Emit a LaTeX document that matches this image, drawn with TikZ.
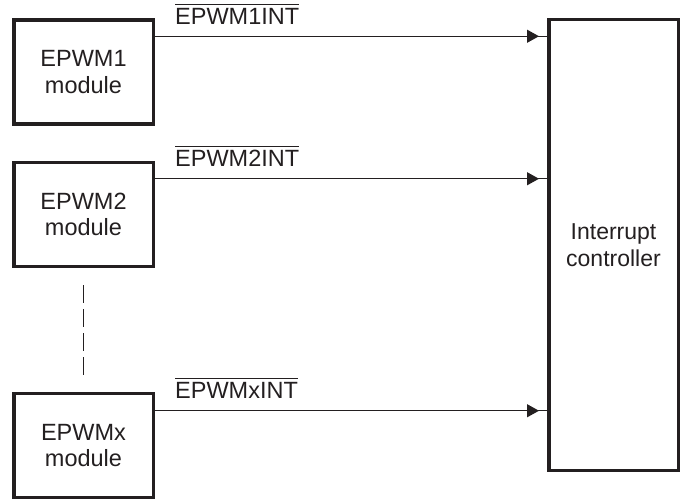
\documentclass[tikz,border=0pt]{standalone}
\usepackage{fontspec}
\setmainfont{Liberation Sans}
\usetikzlibrary{arrows.meta}
\definecolor{ink}{HTML}{231F20}
\newcommand\ovl[1]{\leavevmode\vbox{\hrule height 1.3pt \kern 3.2pt \hbox{#1}}}
\begin{document}
\begin{tikzpicture}[x=1pt,y=-1pt,
  modbox/.style={draw=ink,line width=3.5pt,minimum width=139.5pt,minimum height=104pt,
    align=center,inner sep=0pt,text=ink,font=\fontsize{23.5}{26.5}\selectfont},
  ctrlbox/.style={draw=ink,line width=3.5pt,minimum width=129.5pt,minimum height=450.5pt,
    align=center,inner sep=0pt,text=ink,font=\fontsize{23}{26.5}\selectfont},
  sig/.style={draw=ink,line width=1.2pt},
  sigtip/.style={draw=ink,line width=1.2pt,-{Triangle[length=12pt,width=13pt]},shorten >=8pt},
  siglabel/.style={anchor=base west,inner sep=0pt,text=ink,font=\fontsize{23.5}{26}\selectfont}
]
\useasboundingbox (0,0) rectangle (681,503);
\node[modbox] (b1) at (83.5,72) {EPWM1\\module};
\node[modbox] (b2) at (83.5,214.5) {EPWM2\\module};
\node[modbox] (b3) at (83.5,445.5) {EPWMx\\module};
\node[ctrlbox] (ctrl) at (613.5,245) {Interrupt\\controller};

\coordinate (s1) at ([yshift=-18pt]b1.north east);
\coordinate (s2) at ([yshift=-18pt]b2.north east);
\coordinate (s3) at ([yshift=-19pt]b3.north east);

\foreach \s in {s1,s2,s3}{
  \draw[sig] (\s) -- (\s -| ctrl.west);
  \draw[sigtip] (\s) -- (\s -| ctrl.west);
}

\node[siglabel] (l1) at ([xshift=20pt,yshift=12pt]s1) {\ovl{EPWM1INT}};
\node[siglabel] (l2) at ([xshift=20pt,yshift=12pt]s2) {\ovl{EPWM2INT}};
\node[siglabel] (l3) at ([xshift=20pt,yshift=12pt]s3) {\ovl{EPWMxINT}};

\coordinate (d1) at ([yshift=-17pt]b2.south);
\coordinate (d2) at ([yshift=17pt]b3.north);
\draw[draw=ink,line width=1.2pt,dash pattern=on 18pt off 6pt] (d1) -- (d2);
\end{tikzpicture}
\end{document}
